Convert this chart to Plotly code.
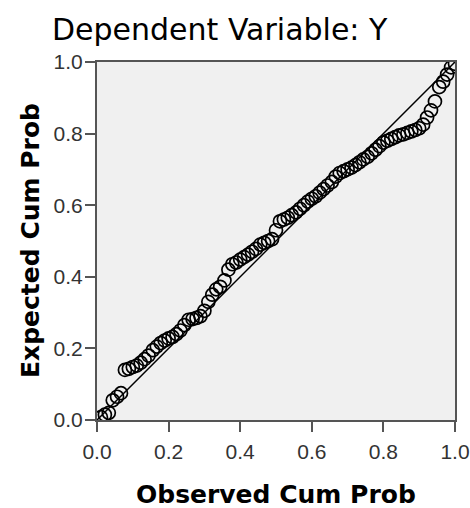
import plotly.graph_objects as go

# observed vs expected cumulative probabilities
observed = [0.011, 0.022, 0.033, 0.044, 0.056, 0.067, 0.078, 0.089, 0.100, 0.111,
            0.122, 0.133, 0.144, 0.156, 0.167, 0.178, 0.189, 0.200, 0.211, 0.222,
            0.233, 0.244, 0.256, 0.267, 0.278, 0.289, 0.300, 0.311, 0.322, 0.333,
            0.344, 0.356, 0.367, 0.378, 0.389, 0.400, 0.411, 0.422, 0.433, 0.444,
            0.456, 0.467, 0.478, 0.489, 0.500, 0.511, 0.522, 0.533, 0.544, 0.556,
            0.567, 0.578, 0.589, 0.600, 0.611, 0.622, 0.633, 0.644, 0.656, 0.667,
            0.678, 0.689, 0.700, 0.711, 0.722, 0.733, 0.744, 0.756, 0.767, 0.778,
            0.789, 0.800, 0.811, 0.822, 0.833, 0.844, 0.856, 0.867, 0.878, 0.889,
            0.900, 0.911, 0.922, 0.933, 0.944, 0.956, 0.967, 0.978, 0.989, 1.000]
expected = [0.008, 0.015, 0.020, 0.055, 0.065, 0.075, 0.140, 0.143, 0.148, 0.152,
            0.160, 0.170, 0.180, 0.195, 0.205, 0.215, 0.222, 0.228, 0.232, 0.240,
            0.250, 0.265, 0.280, 0.282, 0.285, 0.290, 0.305, 0.330, 0.350, 0.365,
            0.372, 0.390, 0.420, 0.435, 0.440, 0.448, 0.455, 0.462, 0.470, 0.478,
            0.490, 0.495, 0.500, 0.505, 0.530, 0.555, 0.560, 0.565, 0.572, 0.580,
            0.590, 0.600, 0.610, 0.618, 0.625, 0.635, 0.645, 0.655, 0.665, 0.680,
            0.690, 0.695, 0.700, 0.705, 0.712, 0.720, 0.728, 0.735, 0.745, 0.755,
            0.765, 0.775, 0.780, 0.785, 0.790, 0.795, 0.798, 0.802, 0.806, 0.810,
            0.815, 0.825, 0.845, 0.865, 0.890, 0.930, 0.945, 0.965, 0.985, 0.995]
ref_line = [0, 1]
tick_vals = [0.0, 0.2, 0.4, 0.6, 0.8, 1.0]
tick_text = ["0.0", "0.2", "0.4", "0.6", "0.8", "1.0"]

fig = go.Figure()
fig.add_trace(go.Scatter(x=ref_line, y=ref_line, mode="lines",
                         line=dict(color="black", width=1.5), hoverinfo="skip"))
fig.add_trace(go.Scatter(x=observed, y=expected, mode="markers",
                         marker=dict(symbol="circle-open", size=13, color="black",
                                     line=dict(width=1.7, color="black"))))

axis = dict(range=[0, 1], tickvals=tick_vals, ticktext=tick_text, automargin=False,
            showgrid=False, zeroline=False, showline=True, mirror=True,
            linecolor="#555555", linewidth=2, ticks="outside", ticklen=10,
            tickwidth=2, tickcolor="#555555", ticklabeloverflow="allow",
            tickfont=dict(family="Liberation Sans", size=21, color="#333333"))

fig.update_layout(
    width=470, height=508,
    margin=dict(l=97, r=15, t=62, b=88),
    paper_bgcolor="white", plot_bgcolor="#f0f0f0",
    showlegend=False,
    title=dict(text="Dependent Variable: Y", x=52/470, xanchor="left",
               y=1 - 29/508, yanchor="middle",
               font=dict(family="DejaVu Sans", size=30, color="black")),
    xaxis=dict(axis, ticklabelstandoff=2),
    yaxis=dict(axis, ticklabelstandoff=-2),
)

# axis titles placed in paper coordinates
title_font = dict(family="DejaVu Sans", size=25, color="black")
fig.add_annotation(text="<b>Observed Cum Prob</b>", xref="paper", yref="paper",
                   x=0.5, y=-74/358, xanchor="center", yanchor="middle",
                   showarrow=False, font=title_font)
fig.add_annotation(text="<b>Expected Cum Prob</b>", xref="paper", yref="paper",
                   x=-67/358, y=0.5, xanchor="center", yanchor="middle",
                   textangle=-90, showarrow=False, font=title_font)

fig.write_html("out.html", config={"displayModeBar": False},
               post_script="document.body.style.margin='0';")
